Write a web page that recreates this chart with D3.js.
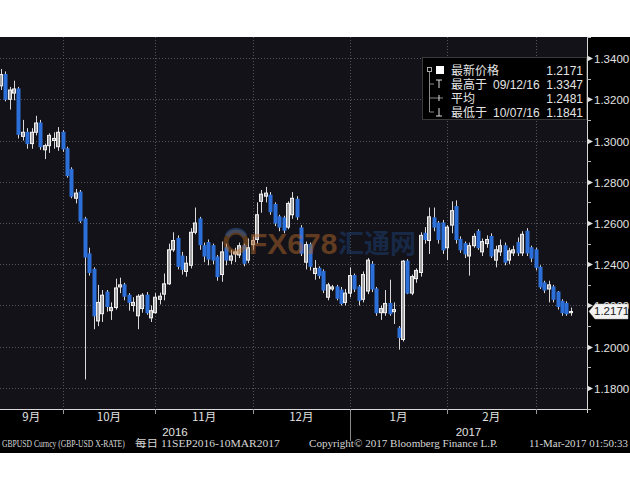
<!DOCTYPE html>
<html><head><meta charset="utf-8">
<script src="https://cdn.jsdelivr.net/npm/d3@7/dist/d3.min.js"></script>
<style>body{margin:0;background:#fff;}svg{display:block;}</style>
</head><body>
<svg id="c" width="630" height="490"></svg>
<script>
// ---- data (GBPUSD daily, 12 Sep 2016 – 10 Mar 2017, weekdays) ----
const startDate = "2016-09-12", endDate = "2017-03-10";
const open = [
1.3265,1.3320,1.3200,1.3230,1.3250,1.3020,1.3040,1.2985,1.3040,1.3085,1.2955,1.2975,1.3000,1.2970,1.3040,
1.2960,1.2860,1.2720,1.2750,1.2620,1.2450,1.2375,1.2125,1.2160,1.2265,1.2175,1.2190,1.2290,1.2300,1.2250,1.2200,1.2150,1.2185,1.2250,1.2140,1.2165,
1.2230,1.2255,1.2305,1.2470,1.2525,1.2440,1.2365,1.2395,1.2555,1.2620,1.2490,1.2505,1.2490,1.2435,1.2350,1.2480,1.2420,1.2450,1.2445,1.2490,1.2420,1.2495,
1.2520,1.2705,1.2730,1.2735,1.2690,1.2630,1.2625,1.2580,1.2640,1.2715,1.2576,1.2410,1.2495,1.2355,1.2380,1.2365,1.2240,1.2280,1.2290,1.2275,1.2215,1.2260,
1.2345,1.2290,1.2230,1.2270,1.2400,1.2280,1.2165,1.2165,1.2210,1.2170,1.2090,1.2035,1.2415,1.2260,1.2330,1.2360,1.2550,1.2515,1.2625,1.2600,1.2600,1.2480,
1.2590,1.2680,1.2520,1.2500,1.2440,1.2490,1.2560,1.2460,1.2500,1.2535,1.2420,1.2460,1.2490,1.2420,1.2455,1.2505,1.2455,1.2560,1.2480,1.2470,
1.2385,1.2310,1.2280,1.2290,1.2265,1.2220,1.2210,1.2165];
const high = [
1.3347,1.3335,1.3260,1.3290,1.3260,1.3100,1.3060,1.3060,1.3120,1.3100,1.2985,1.3035,1.3040,1.3065,1.3050,
1.2970,1.2870,1.2765,1.2760,1.2630,1.2480,1.2385,1.2300,1.2275,1.2275,1.2215,1.2330,1.2335,1.2310,1.2260,1.2240,1.2255,1.2260,1.2265,1.2200,1.2260,
1.2262,1.2355,1.2500,1.2555,1.2540,1.2460,1.2440,1.2575,1.2675,1.2630,1.2505,1.2520,1.2500,1.2445,1.2510,1.2500,1.2470,1.2480,1.2505,1.2500,1.2525,1.2535,
1.2700,1.2760,1.2775,1.2750,1.2700,1.2640,1.2635,1.2705,1.2750,1.2730,1.2590,1.2510,1.2505,1.2420,1.2390,1.2375,1.2310,1.2300,1.2300,1.2290,1.2280,1.2385,
1.2355,1.2300,1.2365,1.2430,1.2415,1.2290,1.2200,1.2275,1.2325,1.2215,1.2100,1.2420,1.2425,1.2350,1.2380,1.2555,1.2580,1.2675,1.2675,1.2610,1.2615,1.2590,
1.2705,1.2710,1.2535,1.2510,1.2505,1.2550,1.2570,1.2525,1.2540,1.2550,1.2490,1.2520,1.2505,1.2480,1.2490,1.2530,1.2560,1.2575,1.2490,1.2480,
1.2395,1.2320,1.2320,1.2300,1.2270,1.2230,1.2220,1.2190];
const low = [
1.3245,1.3190,1.3150,1.3195,1.3010,1.3000,1.2960,1.2960,1.3025,1.2955,1.2910,1.2940,1.2960,1.2950,1.2945,
1.2820,1.2720,1.2695,1.2600,1.1841,1.2345,1.2085,1.2100,1.2120,1.2170,1.2130,1.2180,1.2260,1.2225,1.2175,1.2170,1.2085,1.2165,1.2155,1.2120,1.2160,
1.2205,1.2225,1.2300,1.2460,1.2375,1.2350,1.2340,1.2380,1.2545,1.2470,1.2410,1.2395,1.2400,1.2320,1.2315,1.2395,1.2400,1.2410,1.2430,1.2390,1.2405,1.2470,
1.2500,1.2650,1.2700,1.2640,1.2585,1.2560,1.2550,1.2570,1.2620,1.2615,1.2440,1.2375,1.2370,1.2325,1.2330,1.2260,1.2225,1.2270,1.2225,1.2200,1.2200,1.2240,
1.2265,1.2200,1.2215,1.2255,1.2265,1.2150,1.2130,1.2150,1.2150,1.2110,1.1986,1.2025,1.2255,1.2250,1.2310,1.2340,1.2500,1.2450,1.2560,1.2500,1.2450,1.2420,
1.2550,1.2500,1.2455,1.2430,1.2345,1.2480,1.2470,1.2440,1.2480,1.2430,1.2385,1.2440,1.2395,1.2400,1.2440,1.2440,1.2440,1.2440,1.2410,1.2370,
1.2280,1.2260,1.2215,1.2215,1.2180,1.2150,1.2150,1.2150];
const close = [
1.3320,1.3200,1.3245,1.3250,1.3030,1.3040,1.2985,1.3040,1.3085,1.2970,1.2975,1.3025,1.3010,1.3040,1.2960,
1.2830,1.2730,1.2745,1.2610,1.2435,1.2360,1.2150,1.2215,1.2250,1.2195,1.2190,1.2285,1.2300,1.2245,1.2215,1.2215,1.2245,1.2250,1.2165,1.2175,1.2240,
1.2245,1.2305,1.2470,1.2515,1.2390,1.2375,1.2405,1.2555,1.2600,1.2495,1.2440,1.2425,1.2420,1.2340,1.2460,1.2420,1.2440,1.2460,1.2490,1.2405,1.2480,1.2515,
1.2640,1.2740,1.2745,1.2655,1.2600,1.2580,1.2565,1.2695,1.2720,1.2630,1.2454,1.2495,1.2390,1.2380,1.2345,1.2275,1.2300,1.2290,1.2235,1.2210,1.2260,1.2345,
1.2280,1.2225,1.2350,1.2420,1.2280,1.2165,1.2185,1.2210,1.2160,1.2180,1.2045,1.2415,1.2260,1.2340,1.2370,1.2540,1.2520,1.2630,1.2580,1.2520,1.2470,1.2580,
1.2660,1.2520,1.2470,1.2450,1.2490,1.2535,1.2480,1.2510,1.2520,1.2440,1.2470,1.2490,1.2410,1.2465,1.2470,1.2455,1.2545,1.2455,1.2430,1.2385,
1.2290,1.2275,1.2300,1.2230,1.2195,1.2165,1.2160,1.2171];
const yTicks = [1.18,1.20,1.22,1.24,1.26,1.28,1.30,1.32,1.34];
const yMinor = [1.17,1.19,1.21,1.23,1.25,1.27,1.29,1.31,1.33,1.35];
const monthLabels = ["9月","10月","11月","12月","1月","2月"];
const yearLabels = ["2016","2017"];
const legendNames = ["最新价格","最高于","平均","最低于"];
const legendDates = ["","09/12/16","","10/07/16"];
const legendValues = ["1.2171","1.3347","1.2481","1.1841"];
const lastPrice = 1.2171;
const footer = ["GBPUSD Curncy (GBP-USD X-RATE)","每日 11SEP2016-10MAR2017","Copyright© 2017 Bloomberg Finance L.P.","11-Mar-2017 01:50:33"];

// ---- build ----
const parse = d3.utcParse("%Y-%m-%d");
const dates = d3.utcDay.range(parse(startDate), d3.utcDay.offset(parse(endDate),1))
  .filter(d => d.getUTCDay() !== 0 && d.getUTCDay() !== 6);
const data = dates.map((d,i)=>({d, o:open[i], h:high[i], l:low[i], c:close[i]}));

const svg = d3.select("#c");
const L = 0, R = 587, T = 37, B = 409;
const step = 4.42;
const x = d3.scaleBand().domain(dates).range([0.7 - step/2, 0.7 - step/2 + step*dates.length]).padding(0);
const cx = d => x(d) + x.bandwidth()/2;
const y = d3.scaleLinear().domain([1.1698, 1.3502]).range([B, T]);

svg.append("rect").attr("x",0).attr("y",T).attr("width",630).attr("height",453-T).attr("fill","#000");
svg.append("rect").attr("x",L).attr("y",T).attr("width",R-L).attr("height",B-T).attr("fill","#131219");

// month boundaries
const monthStarts = [];
dates.forEach((d,i)=>{ if(i>0 && d.getUTCMonth()!==dates[i-1].getUTCMonth()) monthStarts.push(i); });
const bx = monthStarts.map(i => cx(dates[i-1]));

const grid = svg.append("g").attr("stroke","#55545c").attr("stroke-width",1).attr("stroke-dasharray","1,2");
yTicks.forEach(t => grid.append("line").attr("x1",L).attr("x2",R).attr("y1",Math.round(y(t))+0.5).attr("y2",Math.round(y(t))+0.5));
bx.forEach(v => grid.append("line").attr("x1",Math.round(v)+0.5).attr("x2",Math.round(v)+0.5).attr("y1",T).attr("y2",B));

// candles
svg.append("clipPath").attr("id","clip").append("rect").attr("x",L).attr("y",T).attr("width",R-L).attr("height",B-T);
const g = svg.append("g").attr("clip-path","url(#clip)");
const bw = 4;
data.forEach(p => {
  const xc = Math.round(cx(p.d));
  const up = p.c >= p.o;
  g.append("line").attr("x1",xc+0.5).attr("x2",xc+0.5).attr("y1",y(p.h)).attr("y2",y(p.l))
    .attr("stroke", "#d8d8d8").attr("stroke-width",1);
  const top = y(Math.max(p.o,p.c)), bot = y(Math.min(p.o,p.c));
  if(up){
    g.append("rect").attr("x",xc-1.5).attr("y",top).attr("width",bw-1).attr("height",Math.max(1,bot-top))
      .attr("fill","#a4a4a6").attr("stroke","#f0f0f0").attr("stroke-width",1);
  } else {
    g.append("rect").attr("x",xc-1.5).attr("y",top-0.5).attr("width",bw).attr("height",Math.max(1.5,bot-top+1))
      .attr("fill","#2d6fd8");
  }
});

// watermark
const wm = svg.append("g");
wm.append("circle").attr("cx",236).attr("cy",242).attr("r",10).attr("fill","none").attr("stroke","#b86a22").attr("stroke-width",5).attr("opacity",0.45);
wm.append("path").attr("d","M227,236 A10,10 0 0,1 245,236").attr("fill","none").attr("stroke","#2a5a9a").attr("stroke-width",5).attr("opacity",0.5);
wm.append("text").attr("x",249).attr("y",254).attr("font-family","Liberation Sans, Arial").attr("font-weight","bold")
  .attr("font-size",30).attr("fill","#b0662a").attr("opacity",0.5).text("FX678");
wm.append("text").attr("x",338).attr("y",253).attr("font-family","Noto Sans CJK SC").attr("font-weight","bold")
  .attr("font-size",26).attr("fill","#1c3d6c").attr("opacity",0.55).text("汇通网");

// x axis
const ax = svg.append("g");
ax.append("line").attr("x1",0).attr("x2",R+1).attr("y1",B+0.5).attr("y2",B+0.5).attr("stroke","#d8d8d8");
bx.forEach(v => ax.append("line").attr("x1",Math.round(v)+0.5).attr("x2",Math.round(v)+0.5).attr("y1",B).attr("y2",B+5).attr("stroke","#9a9a9a"));
const mEdges = [0, ...bx];
monthLabels.forEach((m,i) => {
  ax.append("text").attr("x",(mEdges[i]+mEdges[i+1])/2).attr("y",421).attr("text-anchor","middle")
    .attr("font-family","Noto Sans CJK SC").attr("font-size",11.5).attr("fill","#e2e2e2").text(m);
});
const janX = bx[3];
ax.append("line").attr("x1",Math.round(janX)+0.5).attr("x2",Math.round(janX)+0.5).attr("y1",412).attr("y2",441).attr("stroke","#8a8a8a");
ax.append("text").attr("x",janX/2).attr("y",436).attr("text-anchor","middle").attr("font-family","Liberation Sans, Arial")
  .attr("font-size",11.5).attr("fill","#e2e2e2").text(yearLabels[0]);
ax.append("text").attr("x",(janX+R)/2).attr("y",436).attr("text-anchor","middle").attr("font-family","Liberation Sans, Arial")
  .attr("font-size",11.5).attr("fill","#e2e2e2").text(yearLabels[1]);

// right axis
const ay = svg.append("g");
ay.append("line").attr("x1",R+0.5).attr("x2",R+0.5).attr("y1",T).attr("y2",B+4).attr("stroke","#d8d8d8");
yMinor.forEach(t => ay.append("line").attr("x1",R).attr("x2",R+4).attr("y1",Math.round(y(t))+0.5).attr("y2",Math.round(y(t))+0.5).attr("stroke","#bbb"));
yTicks.forEach(t => {
  const yy = Math.round(y(t))+0.5;
  ay.append("path").attr("d",`M${R+1},${yy-2.5}L${R+6},${yy}L${R+1},${yy+2.5}Z`).attr("fill","#e0e0e0");
  ay.append("text").attr("x",594).attr("y",yy+4).attr("font-family","Liberation Sans, Arial").attr("font-size",11.5)
    .attr("fill","#e2e2e2").text(d3.format(".4f")(t));
});
// last price tag
const ly = y(lastPrice);
ay.append("path").attr("d",`M${R+2},${ly}L${R+8},${ly-7.5}L628,${ly-7.5}L628,${ly+7.5}L${R+8},${ly+7.5}Z`)
  .attr("fill","#f2f2f2").attr("stroke","#bbb").attr("stroke-width",0.5);
ay.append("text").attr("x",594).attr("y",ly+4).attr("font-family","Liberation Sans, Arial").attr("font-size",11.5)
  .attr("fill","#1a1a1a").text(d3.format(".4f")(lastPrice));

// legend
const lg = svg.append("g");
lg.append("rect").attr("x",422.5).attr("y",57.5).attr("width",164).attr("height",62).attr("fill","#000").attr("stroke","#3a3a3a");
const rowY = [70, 84, 98, 112];
lg.append("rect").attr("x",427.5).attr("y",rowY[0]-2.5).attr("width",4).attr("height",4).attr("fill","none").attr("stroke","#aaa");
lg.append("rect").attr("x",436).attr("y",rowY[0]-4).attr("width",8).attr("height",8).attr("fill","#fff");
lg.append("path").attr("d",`M429.5,${rowY[0]+2}V${rowY[3]}H434`).attr("fill","none").attr("stroke","#888");
lg.append("path").attr("d",`M429.5,${rowY[1]}H434 M429.5,${rowY[2]}H443`).attr("fill","none").attr("stroke","#888");
lg.append("path").attr("d",`M436,${rowY[1]-4}H442 M439,${rowY[1]-4}V${rowY[1]+4}`).attr("fill","none").attr("stroke","#ddd");
lg.append("path").attr("d",`M439,${rowY[2]-3}V${rowY[2]+3}`).attr("fill","none").attr("stroke","#ddd");
lg.append("path").attr("d",`M436,${rowY[3]+4}H442 M439,${rowY[3]-4}V${rowY[3]+4}`).attr("fill","none").attr("stroke","#ddd");
legendNames.forEach((n,i) => {
  lg.append("text").attr("x",451).attr("y",rowY[i]+4.5).attr("font-family","Noto Sans CJK SC").attr("font-size",12)
    .attr("fill","#e4e4e4").text(n);
  if(legendDates[i]) lg.append("text").attr("x",493).attr("y",rowY[i]+4.5).attr("font-family","Liberation Sans, Arial").attr("font-size",12)
    .attr("fill","#e4e4e4").text(legendDates[i]);
  lg.append("text").attr("x",583).attr("y",rowY[i]+4.5).attr("text-anchor","end").attr("font-family","Liberation Sans, Arial").attr("font-size",12)
    .attr("fill","#e4e4e4").text(legendValues[i]);
});

// footer: scale each text horizontally to its span
const fx = [[2,125],[135,280],[309,498],[529,628]];
footer.forEach((t,i) => {
  const tx = svg.append("text").attr("x",0).attr("y",0).attr("font-family","Liberation Serif, Noto Sans CJK SC").attr("font-size",10)
    .attr("fill","#d6d6d6").text(t);
  const len = tx.node().getComputedTextLength();
  tx.attr("transform",`translate(${fx[i][0]},447) scale(${(fx[i][1]-fx[i][0])/len},1)`);
});
</script>
</body></html>
